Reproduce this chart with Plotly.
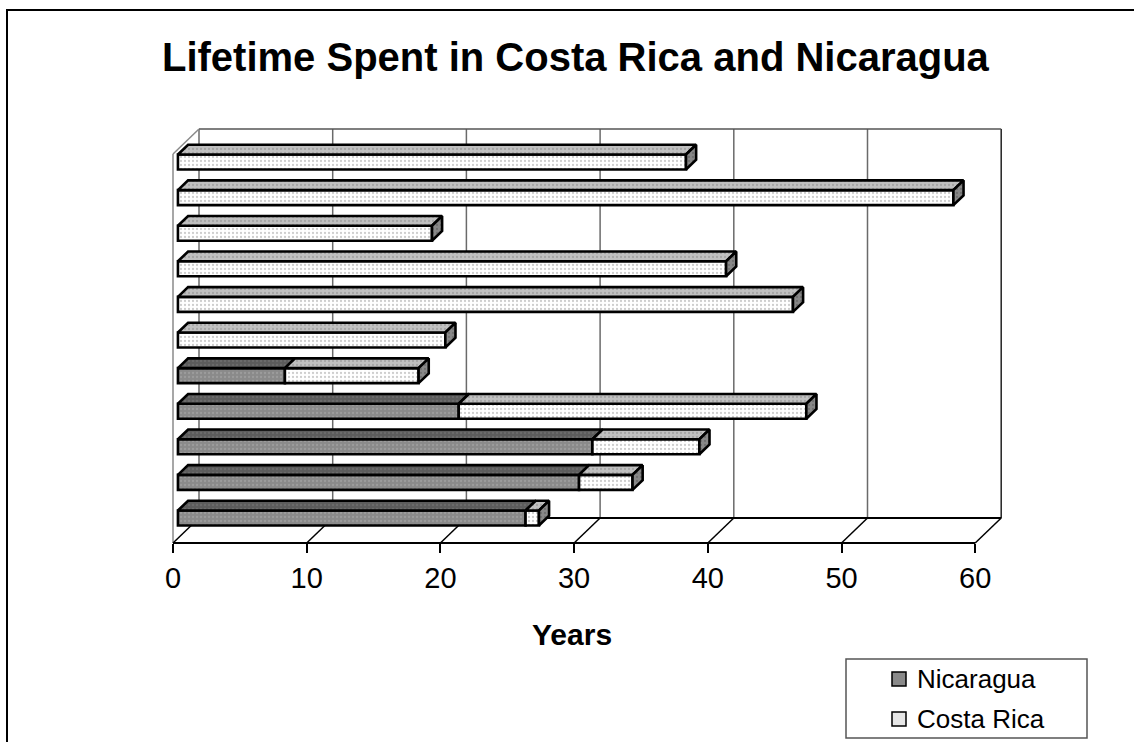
import plotly.graph_objects as go

# Years each person lived in each country (bottom row first)
nicaragua = [26, 30, 31, 21, 8, 0, 0, 0, 0, 0, 0]
costa_rica = [1, 4, 8, 26, 10, 20, 46, 41, 19, 58, 38]
series_names = ["Nicaragua", "Costa Rica"]
x_ticks = [0, 10, 20, 30, 40, 50, 60]
title_text = "Lifetime Spent in Costa Rica and Nicaragua"
x_title = "Years"

FONT = "Liberation Sans, Arial, sans-serif"

# ---- page geometry (pixels) ----
FIG_W, FIG_H = 1134, 742
PAD = 10
FRONT_L, FRONT_B = 173, 543          # front-left corner of the floor
BACK_R, BACK_T = 1002, 129           # back-right / top corner of the walls
PLOT_L, PLOT_R = FRONT_L - PAD, BACK_R + PAD
PLOT_T, PLOT_B = BACK_T - PAD, FRONT_B + PAD
PX_PER_YEAR = 13.37
PX_PER_ROW = 35.6
ROW0_PX = 518                         # centre of bottom bar's front face
WALL_DX, WALL_DY = 26, 25             # depth of the 3D box
BAR_FRONT, BAR_BACK = 0.19, 0.58      # slab depth as fraction of box depth
BAR_H_PX = 15


def to_x(px):
    return (px - FRONT_L) / PX_PER_YEAR


def to_y(py):
    return (ROW0_PX - py) / PX_PER_ROW


def paper_x(px):
    return (px - PLOT_L) / (PLOT_R - PLOT_L)


def paper_y(py):
    return (PLOT_B - py) / (PLOT_B - PLOT_T)


dx = WALL_DX / PX_PER_YEAR
dy = WALL_DY / PX_PER_ROW
y_floor = to_y(FRONT_B)
y_top = to_y(BACK_T)
x_max = x_ticks[-1]

rows = list(range(len(nicaragua)))
bar_h = BAR_H_PX / PX_PER_ROW
off_f = BAR_FRONT * dx
off_b = BAR_BACK * dx
rise = (BAR_BACK - BAR_FRONT) * dy

fig = go.Figure()
shapes = []


def wall_line(x0, y0, x1, y1, color, width=1.5):
    shapes.append(dict(type="line", xref="x", yref="y", x0=x0, y0=y0,
                       x1=x1, y1=y1, layer="below",
                       line=dict(color=color, width=width)))


# ---- walls and floor (behind the bars) ----
for t in x_ticks[:-1]:
    wall_line(t + dx, y_floor + dy, t + dx, y_top, "#6a6a6a")
wall_line(x_max + dx, y_floor + dy, x_max + dx, y_top, "#222222")
wall_line(dx, y_top, x_max + dx, y_top, "#555555")
wall_line(0, y_floor, 0, y_top - dy, "#8a8a8a")
wall_line(0, y_top - dy, dx, y_top, "#8a8a8a")
for t in x_ticks:
    wall_line(t, y_floor, t + dx, y_floor + dy, "black")
wall_line(0, y_floor, x_max, y_floor, "black", 1.8)
wall_line(dx, y_floor + dy, x_max + dx, y_floor + dy, "black", 1.8)

# ---- bar slabs ----
STYLE = {
    "Nicaragua": dict(front=("#8a8a8a", "#aeaeae"), top=("#5c5c5c", "#7a7a7a"),
                      side=("#5c5c5c", "#7a7a7a")),
    "Costa Rica": dict(front=("#ffffff", "#9c9c9c"), top=("#c0c0c0", "#8a8a8a"),
                       side=("#888888", "#585858")),
}
EDGE = dict(color="black", width=2.6)


def pattern(bg, fg):
    return dict(shape=".", bgcolor=bg, fgcolor=fg, size=4, solidity=0.25)


segments = {
    "Nicaragua": ([0] * len(rows), nicaragua),
    "Costa Rica": (nicaragua, costa_rica),
}
totals = [a + b for a, b in zip(nicaragua, costa_rica)]

for name in series_names:
    starts, lengths = segments[name]
    st = STYLE[name]
    xs = [v if v > 0 else None for v in lengths]
    fig.add_trace(go.Bar(
        y=rows, x=xs, base=[s + off_f for s in starts], width=bar_h,
        orientation="h", name=name, showlegend=False, hoverinfo="skip",
        marker=dict(color=st["front"][0], pattern=pattern(*st["front"]),
                    line=EDGE),
    ))

for name in series_names:
    starts, lengths = segments[name]
    st = STYLE[name]
    tx, ty, sx, sy = [], [], [], []
    for r, s, ln in zip(rows, starts, lengths):
        if ln <= 0:
            continue
        e = s + ln
        y1 = r + bar_h / 2
        y0 = r - bar_h / 2
        tx += [s + off_f, e + off_f, e + off_b, s + off_b, s + off_f, None]
        ty += [y1, y1, y1 + rise, y1 + rise, y1, None]
        if e == totals[r]:
            sx += [e + off_f, e + off_b, e + off_b, e + off_f, e + off_f, None]
            sy += [y0, y0 + rise, y1 + rise, y1, y0, None]
    fig.add_trace(go.Scatter(x=tx, y=ty, mode="lines", fill="toself",
                             fillcolor=st["top"][0],
                             fillpattern=pattern(*st["top"]),
                             line=EDGE, showlegend=False, hoverinfo="skip"))
    if sx:
        fig.add_trace(go.Scatter(x=sx, y=sy, mode="lines", fill="toself",
                                 fillcolor=st["side"][0],
                                 fillpattern=pattern(*st["side"]),
                                 line=EDGE, showlegend=False, hoverinfo="skip"))

# ---- outer frame and legend box ----
shapes += [
    dict(type="rect", xref="paper", yref="paper",
         x0=paper_x(7), y0=paper_y(FIG_H + 20), x1=paper_x(FIG_W + 20), y1=paper_y(10),
         line=dict(color="black", width=2), fillcolor="rgba(0,0,0,0)", layer="below"),
    dict(type="rect", xref="paper", yref="paper",
         x0=paper_x(846), y0=paper_y(738), x1=paper_x(1087), y1=paper_y(659),
         line=dict(color="#555555", width=1.5), fillcolor="white"),
]
annotations = []
legend_rows = [679, 719]
swatch_fill = ["#8a8a8a", "#e6e6e6"]
for name, cy, fill in zip(series_names, legend_rows, swatch_fill):
    shapes.append(dict(type="rect", xref="paper", yref="paper",
                       x0=paper_x(892), x1=paper_x(906),
                       y0=paper_y(cy + 7), y1=paper_y(cy - 7),
                       line=dict(color="black", width=1.5), fillcolor=fill))
    annotations.append(dict(text=name, xref="paper", yref="paper",
                            x=paper_x(915), y=paper_y(cy), xanchor="left",
                            yanchor="middle", showarrow=False,
                            font=dict(family=FONT, size=26, color="black")))

annotations.append(dict(text="<b>%s</b>" % title_text, xref="paper", yref="paper",
                        x=paper_x(576), y=paper_y(57), xanchor="center",
                        yanchor="middle", showarrow=False,
                        font=dict(family=FONT, size=40, color="black")))
annotations.append(dict(text="<b>%s</b>" % x_title, xref="paper", yref="paper",
                        x=paper_x(572), y=paper_y(634), xanchor="center",
                        yanchor="middle", showarrow=False,
                        font=dict(family=FONT, size=30, color="black")))

fig.update_layout(
    width=FIG_W, height=FIG_H,
    margin=dict(l=PLOT_L, r=FIG_W - PLOT_R, t=PLOT_T, b=FIG_H - PLOT_B,
                autoexpand=False),
    paper_bgcolor="white", plot_bgcolor="rgba(0,0,0,0)",
    barmode="overlay", showlegend=False,
    shapes=shapes, annotations=annotations,
    xaxis=dict(range=[to_x(PLOT_L), to_x(PLOT_R)], tickvals=x_ticks,
               ticks="outside", ticklen=9, tickwidth=1.5, tickcolor="black",
               showgrid=False, zeroline=False, showline=False,
               anchor="free", position=paper_y(FRONT_B),
               tickfont=dict(family=FONT, size=29, color="black")),
    yaxis=dict(range=[to_y(PLOT_B), to_y(PLOT_T)], visible=False,
               showgrid=False, zeroline=False),
)

fig.write_html("out.html")
